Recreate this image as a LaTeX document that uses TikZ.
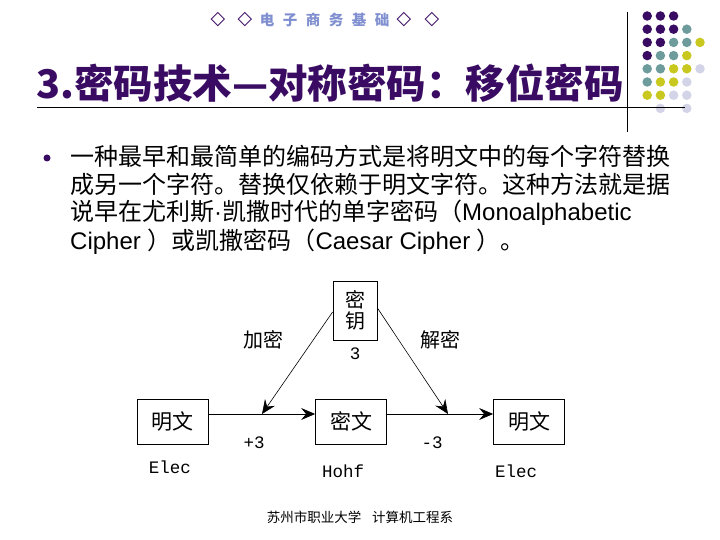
\documentclass[tikz,border=0pt]{standalone}
\usepackage{fontspec}
\usetikzlibrary{arrows.meta}
\newfontfamily\cjk{Noto Sans CJK SC}
\newfontfamily\arial{Liberation Sans}
\newfontfamily\cour{Liberation Mono}
\newfontfamily\djv{DejaVu Sans}
\definecolor{dpurple}{HTML}{3A0B62}
\definecolor{dteal}{HTML}{6E9C9C}
\definecolor{dyellow}{HTML}{C8C81E}
\definecolor{dlav}{HTML}{D4D4E8}
\definecolor{hdrblue}{HTML}{7F8FD0}
\tikzset{
  dotp/.style={circle,fill=dpurple,inner sep=0pt,minimum size=9.5pt},
  dott/.style={circle,fill=dteal,inner sep=0pt,minimum size=9.5pt},
  doty/.style={circle,fill=dyellow,inner sep=0pt,minimum size=9.5pt},
  dotl/.style={circle,fill=dlav,inner sep=0pt,minimum size=9.5pt},
  hdia/.style={inner sep=0pt,text=dpurple,font=\djv\bfseries\fontsize{19}{19}\selectfont},
  hch/.style={inner sep=0pt,text=hdrblue,font=\cjk\bfseries\fontsize{14.5}{14.5}\selectfont},
  bodyline/.style={anchor=base west,inner sep=0pt,font=\fontsize{24}{24}\selectfont},
  boxn/.style={draw,line width=0.8pt,inner sep=0pt,minimum width=71pt,minimum height=45pt,font=\cjk\fontsize{21}{21}\selectfont},
  lbl/.style={inner sep=0pt,font=\cjk\fontsize{20}{20}\selectfont},
  mono/.style={inner sep=0pt,font=\cour\fontsize{17.5}{17.5}\selectfont},
  arr/.style={line width=0.8pt,-{Stealth[length=14pt,width=12pt,inset=5pt]}},
  darr/.style={line width=0.6pt,-{Stealth[length=14pt,width=12pt,inset=5pt]}}
}
\begin{document}
\begin{tikzpicture}[x=1pt,y=-1pt]
\useasboundingbox (0,0) rectangle (720,540);
\fill[white] (0,0) rectangle (720,540);
% header
\node[hdia] (hd1) at (218,20) {◇};
\node[hdia] (hd2) at (245,20) {◇};
\node[hch] (h1) at (267,20) {电};
\node[hch] (h2) at (290,20) {子};
\node[hch] (h3) at (313,20) {商};
\node[hch] (h4) at (336,20) {务};
\node[hch] (h5) at (359,20) {基};
\node[hch] (h6) at (382,20) {础};
\node[hdia] (hd3) at (404,20) {◇};
\node[hdia] (hd4) at (432,20) {◇};
% decorative dots
\foreach \c/\r/\s in {1/1/dotp,2/1/dotp,3/1/dotp,
  1/2/dotp,2/2/dotp,3/2/dotp,4/2/dott,
  1/3/dotp,2/3/dotp,3/3/dott,4/3/dott,5/3/doty,
  1/4/dotp,2/4/dott,3/4/dott,4/4/doty,
  1/5/dott,2/5/dott,3/5/doty,4/5/doty,5/5/dotl,
  1/6/dott,2/6/doty,3/6/doty,4/6/dotl,
  1/7/doty,2/7/doty,3/7/dotl,4/7/dotl,
  2/8/dotl,4/8/dotl}
  \node[\s] (d\c\r) at ({634+13.2*\c},{2.8+13.2*\r}) {};
% title lines
\draw[line width=0.8pt] (627,12) -- (627,132);
\draw[line width=0.8pt] (37,107) -- (685,107);
\node[anchor=base west,inner sep=0pt,text=dpurple,font=\cjk\bfseries\fontsize{39.5}{39.5}\selectfont] (title) at (36,99) {3.密码技术—对称密码：移位密码};
% bullet text
\node[circle,fill=dpurple,inner sep=0pt,minimum size=7pt] (bul) at (47,158) {};
\node[bodyline] (l1) at (70,166) {\cjk 一种最早和最简单的编码方式是将明文中的每个字符替换};
\node[bodyline] (l2) at (70,194) {\cjk 成另一个字符。替换仅依赖于明文字符。这种方法就是据};
\node[bodyline] (l3) at (70,221) {\cjk 说早在尤利斯{\arial ·}凯撒时代的单字密码（\arial Monoalphabetic};
\node[bodyline] (l4) at (70,249) {\arial Cipher \cjk ）或凯撒密码（\arial Caesar Cipher \cjk ）。};
% diagram
\node[boxn,minimum width=44pt,minimum height=59pt,align=center,font=\cjk\fontsize{20}{21}\selectfont] (key) at (355,310.5) {密\\钥};
\node[mono] (k3) at (355,354) {3};
\node[boxn] (p1) at (172.5,421.5) {明文};
\node[boxn] (c) at (351,421.5) {密文};
\node[boxn] (p2) at (529,421.5) {明文};
\coordinate (a1) at (p1.east |- 0,414);
\coordinate (a2) at (c.west |- 0,414);
\coordinate (a3) at (c.east |- 0,414);
\coordinate (a4) at (p2.west |- 0,414);
\draw[arr] (a1) -- (a2);
\draw[arr] (a3) -- (a4);
\coordinate (ks) at (key.west |- 0,312);
\coordinate (ke) at (key.east |- 0,308);
\coordinate (t1) at (262,414);
\coordinate (t2) at (448,414);
\draw[darr] (ks) -- (t1);
\draw[darr] (ke) -- (t2);
\node[lbl] (enc) at (263,340) {加密};
\node[lbl] (dec) at (440,340) {解密};
\node[mono] (pl3) at (254,443) {+3};
\node[mono] (mn3) at (432,443) {-3};
\node[mono] (e1) at (170,467) {Elec};
\node[mono] (h1) at (343,471) {Hohf};
\node[mono] (e2) at (516,471) {Elec};
% footer
\node[inner sep=0pt,font=\cjk\fontsize{13.5}{13.5}\selectfont] (foot) at (360,517) {苏州市职业大学\hspace{0.8em}计算机工程系};
\end{tikzpicture}
\end{document}
